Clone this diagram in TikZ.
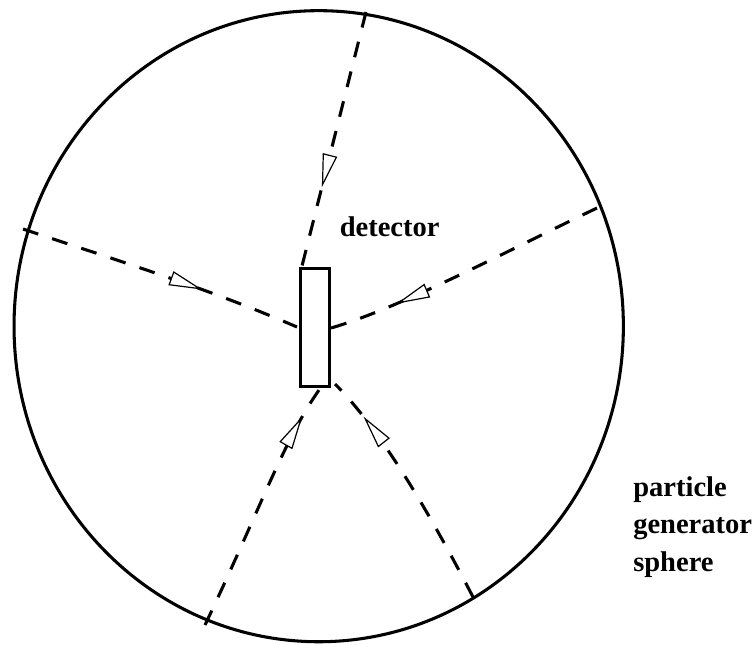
\documentclass[tikz,border=0pt]{standalone}
\usepackage{fontspec}
\setmainfont{Liberation Serif}
\usetikzlibrary{arrows.meta,decorations.markings,shapes.geometric}

\begin{document}
\begin{tikzpicture}[x=0.75pt,y=-0.75pt,
  rim/.style={draw, line width=2.3pt, inner sep=0pt},
  ray/.style={line width=2.3pt, dash pattern=on 12pt off 11pt},
  flowmark/.style={postaction={decorate}, decoration={markings,
      mark=at position #1 with {\arrow{Triangle[fill=white,length=25pt,width=11pt,line width=0.9pt]}}}},
  legendtext/.style={font=\fontsize{21.4}{27.9}\selectfont\bfseries, inner sep=0pt, anchor=base west, align=left}
]
\useasboundingbox (0,0) rectangle (756,644);

% generator sphere and detector
\node[rim, ellipse, minimum width=457pt, minimum height=473.3pt] (sphere) at (318.7,326.2) {};
\node[rim, rectangle, minimum width=21.4pt, minimum height=88.3pt] (detector) at (314.9,327.8) {};

% entry points on the sphere
\coordinate (inTop)   at (366,12);
\coordinate (inLeft)  at (23,229);
\coordinate (inRight) at (597,208);
\coordinate (inLowL)  at (205,625);
\coordinate (inLowR)  at (473,597);

% hit points at the detector
\coordinate (hitTop)   at (302,266);
\coordinate (hitLeft)  at (297,327);
\coordinate (hitRight) at (331,328);
\coordinate (hitLowL)  at (319,390);
\coordinate (hitLowR)  at (335,384);

% particle tracks
\draw[ray, flowmark=0.69] (inTop) -- (hitTop);
\draw[ray, flowmark=0.65] (inLeft) .. controls (113,259) and (207,288) .. (hitLeft);
\draw[ray, flowmark=0.76] (inRight) .. controls (507,251) and (400,308) .. (hitRight);
\draw[ray, flowmark=0.88] (inLowL) .. controls (261,507) and (284,440) .. (hitLowL);
\draw[ray, flowmark=0.83] (inLowR) .. controls (428,510) and (380,429) .. (hitLowR);

% labels (a multi-line node sits on the baseline of its last line)
\node[legendtext] (detlabel) at (339.5,236.7) {detector};
\node[legendtext] (spherelabel) at (633,571) {particle\\generator\\sphere};
\end{tikzpicture}
\end{document}
